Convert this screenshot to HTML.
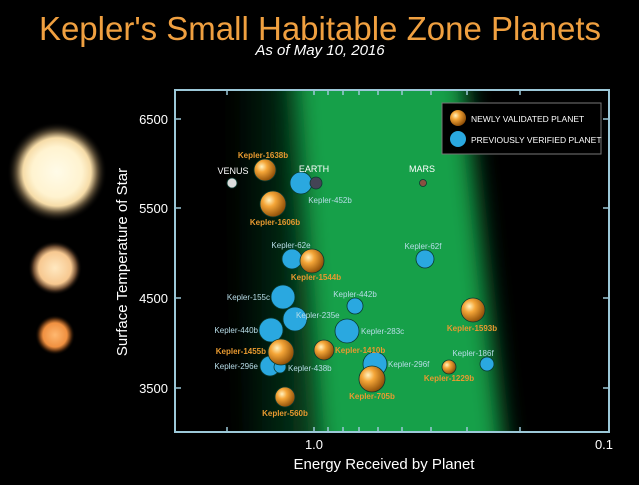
<!DOCTYPE html>
<html><head><style>
body{margin:0;background:#000;width:639px;height:480px;overflow:hidden}
text{font-family:"Liberation Sans",sans-serif}
</style></head><body>
<svg width="639" height="480" viewBox="0 0 639 480">
<defs>
<filter id="bl" x="-50%" y="-50%" width="200%" height="200%"><feGaussianBlur stdDeviation="12"/></filter>
<radialGradient id="og" cx="0.35" cy="0.35" r="0.7"><stop offset="0" stop-color="#fff2c0"/><stop offset="0.35" stop-color="#f5a638"/><stop offset="1" stop-color="#8a4a05"/></radialGradient>
<radialGradient id="star1"><stop offset="0" stop-color="#fffbe8"/><stop offset="0.5" stop-color="#fff3d0"/><stop offset="0.68" stop-color="#f6dca8"/><stop offset="0.8" stop-color="#6a5a40"/><stop offset="1" stop-color="#000" stop-opacity="0"/></radialGradient>
<radialGradient id="star2"><stop offset="0" stop-color="#ffe8c0"/><stop offset="0.6" stop-color="#f7c890"/><stop offset="0.8" stop-color="#6a4a30"/><stop offset="1" stop-color="#000" stop-opacity="0"/></radialGradient>
<radialGradient id="star3"><stop offset="0" stop-color="#ffb870"/><stop offset="0.6" stop-color="#f09040"/><stop offset="0.8" stop-color="#5a3010"/><stop offset="1" stop-color="#000" stop-opacity="0"/></radialGradient>
<linearGradient id="lf" x1="0" x2="1"><stop offset="0" stop-color="#0d5a2a" stop-opacity="0"/><stop offset="1" stop-color="#0d5a2a" stop-opacity="0.7"/></linearGradient>
<clipPath id="pc"><rect x="175" y="90" width="434" height="342"/></clipPath>
</defs>
<text x="320" y="40" text-anchor="middle" font-size="33" fill="#f0a040">Kepler's Small Habitable Zone Planets</text>
<text x="320" y="55" text-anchor="middle" font-size="15" font-style="italic" fill="#fff">As of May 10, 2016</text>
<circle cx="57" cy="172" r="50" fill="url(#star1)"/>
<circle cx="55" cy="268" r="27" fill="url(#star2)"/>
<circle cx="55" cy="335" r="20" fill="url(#star3)"/>
<g clip-path="url(#pc)">
<rect x="175" y="90" width="434" height="342" fill="#000"/>
<polygon points="230,60 300,60 318,460 245,460" fill="url(#lf)" filter="url(#bl)"/>
<polygon points="292,60 462,60 505,460 318,460" fill="#14a04a" filter="url(#bl)"/>
</g>
<rect x="175" y="90" width="434" height="342" fill="none" stroke="#9cc8d8" stroke-width="2"/>
<g stroke="#9cc8d8" stroke-width="1.5">
<line x1="175" y1="119" x2="181" y2="119"/><line x1="175" y1="208" x2="181" y2="208"/><line x1="175" y1="298" x2="181" y2="298"/><line x1="175" y1="388" x2="181" y2="388"/>
<line x1="609" y1="119" x2="603" y2="119"/><line x1="609" y1="208" x2="603" y2="208"/><line x1="609" y1="298" x2="603" y2="298"/><line x1="609" y1="388" x2="603" y2="388"/>
<path d="M227 90v5M314 90v5M328 90v5M343 90v5M359 90v5M378 90v5M402 90v5M431 90v5M467 90v5M520 90v5M227 432v-5M314 432v-5M328 432v-5M343 432v-5M359 432v-5M378 432v-5M402 432v-5M431 432v-5M467 432v-5M520 432v-5"/>
</g>
<g font-size="13" fill="#fff" text-anchor="end">
<text x="168" y="124">6500</text><text x="168" y="213">5500</text><text x="168" y="303">4500</text><text x="168" y="393">3500</text>
</g>
<text x="314" y="449" font-size="13" fill="#fff" text-anchor="middle">1.0</text>
<text x="604" y="449" font-size="13" fill="#fff" text-anchor="middle">0.1</text>
<text x="384" y="469" font-size="15" fill="#fff" text-anchor="middle">Energy Received by Planet</text>
<text transform="translate(127,262) rotate(-90)" font-size="15" fill="#fff" text-anchor="middle">Surface Temperature of Star</text>
<rect x="442" y="103" width="159" height="51" fill="#000" stroke="#777" stroke-width="1"/>
<circle cx="458" cy="118" r="8" fill="url(#og)"/><circle cx="458" cy="139" r="8" fill="#2aa8e0"/>
<text x="471" y="122" font-size="8.5" fill="#fff">NEWLY VALIDATED PLANET</text>
<text x="471" y="143" font-size="8.5" fill="#fff">PREVIOUSLY VERIFIED PLANET</text>
<g stroke="#0a3a30" stroke-width="0.8">
<circle cx="232" cy="183" r="5" fill="#ddd"/>
<circle cx="265" cy="170" r="11" fill="url(#og)"/>
<circle cx="301" cy="183" r="11" fill="#2aa8e0"/>
<circle cx="316" cy="183" r="6" fill="#445"/>
<circle cx="423" cy="183" r="3.5" fill="#8a5040"/>
<circle cx="273" cy="204" r="13" fill="url(#og)"/>
<circle cx="292" cy="259" r="10" fill="#2aa8e0"/>
<circle cx="312" cy="261" r="12" fill="url(#og)"/>
<circle cx="425" cy="259" r="9" fill="#2aa8e0"/>
<circle cx="283" cy="297" r="12" fill="#2aa8e0"/>
<circle cx="355" cy="306" r="8" fill="#2aa8e0"/>
<circle cx="295" cy="319" r="12" fill="#2aa8e0"/>
<circle cx="271" cy="330" r="12" fill="#2aa8e0"/>
<circle cx="347" cy="331" r="12" fill="#2aa8e0"/>
<circle cx="473" cy="310" r="12" fill="url(#og)"/>
<circle cx="270" cy="366" r="10" fill="#2aa8e0"/>
<circle cx="280" cy="367" r="6" fill="#2aa8e0"/>
<circle cx="281" cy="352" r="13" fill="url(#og)"/>
<circle cx="324" cy="350" r="10" fill="url(#og)"/>
<circle cx="375" cy="364" r="12" fill="#2aa8e0"/>
<circle cx="372" cy="379" r="13" fill="url(#og)"/>
<circle cx="449" cy="367" r="7" fill="url(#og)"/>
<circle cx="487" cy="364" r="7" fill="#2aa8e0"/>
<circle cx="285" cy="397" r="10" fill="url(#og)"/>
</g>
<g font-size="8" fill="#e89a30" font-weight="bold" text-anchor="middle">
<text x="263" y="158">Kepler-1638b</text>
<text x="275" y="225">Kepler-1606b</text>
<text x="316" y="280">Kepler-1544b</text>
<text x="472" y="331">Kepler-1593b</text>
<text x="266" y="354" text-anchor="end">Kepler-1455b</text>
<text x="335" y="353" text-anchor="start">Kepler-1410b</text>
<text x="372" y="399">Kepler-705b</text>
<text x="449" y="381">Kepler-1229b</text>
<text x="285" y="416">Kepler-560b</text>
</g>
<g font-size="8" fill="#b8dde8" text-anchor="middle">
<text x="291" y="248">Kepler-62e</text>
<text x="423" y="249">Kepler-62f</text>
<text x="330" y="203">Kepler-452b</text>
<text x="270" y="300" text-anchor="end">Kepler-155c</text>
<text x="355" y="297">Kepler-442b</text>
<text x="296" y="318" text-anchor="start">Kepler-235e</text>
<text x="258" y="333" text-anchor="end">Kepler-440b</text>
<text x="361" y="334" text-anchor="start">Kepler-283c</text>
<text x="258" y="369" text-anchor="end">Kepler-296e</text>
<text x="288" y="371" text-anchor="start">Kepler-438b</text>
<text x="388" y="367" text-anchor="start">Kepler-296f</text>
<text x="473" y="356">Kepler-186f</text>
</g>
<g font-size="9" fill="#fff" text-anchor="middle">
<text x="233" y="174">VENUS</text><text x="314" y="172">EARTH</text><text x="422" y="172">MARS</text>
</g>
</svg>
</body></html>
